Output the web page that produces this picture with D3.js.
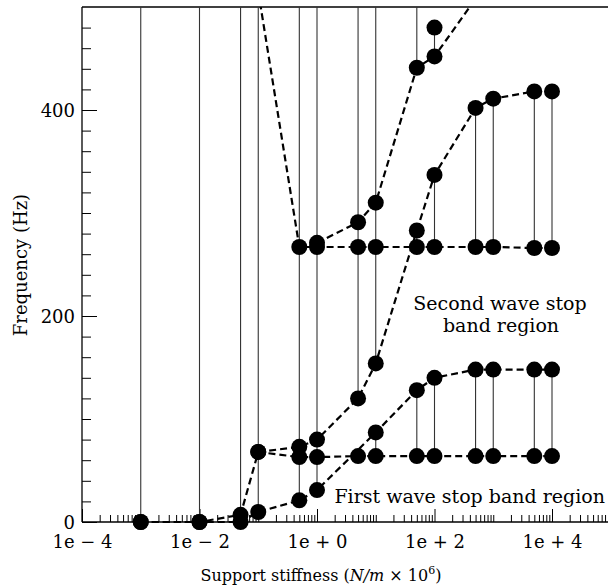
<!DOCTYPE html>
<html>
<head>
<meta charset="utf-8">
<script src="https://cdn.jsdelivr.net/npm/d3@7"></script>
<style>
  html, body { margin: 0; padding: 0; background: #fff; }
  svg { display: block; }
  text { font-family: "DejaVu Serif", serif; fill: #000; }
</style>
</head>
<body>
<svg id="chart" width="608" height="588"></svg>
<script>
// ---------------- data ----------------
const stiffness = [0.001, 0.01, 0.05, 0.1, 0.5, 1, 5, 10, 50, 100, 500, 1000, 5000, 10000];

// band-edge frequencies (Hz) at each stiffness (null = no point)
const edge1 = [0, 0, 0, 9.7, 21, 31, null, 87, 128, 140, 148, 148, 148, 148];
const edge2 = [0, 0, 7, 68, 63, 63, 64, 64, 64, 64, 64, 64, 64, 64];
const edge3 = [null, null, null, 68, 73, 80, 120, 154, 283, 337, 402, 411, 418, 418];
const edge4 = [null, null, null, 515, 267, 267, 267, 267, 267, 267, 267, 267, 266, 266];
const edge5 = [null, null, null, null, null, 271, 291, 310, 441, 452, 508, null, null, null];
const edge6 = [null, null, null, null, null, null, null, null, null, 480, null, null, null, null];

// solid vertical band segments
const bandStiffness = [0.001, 0.01, 0.05, 0.1, 0.5, 1, 5, 10, 10, 50, 50, 50, 100, 100, 100, 500, 500, 1000, 1000, 5000, 5000, 10000, 10000];
const bandLow  = [0, 0, 0, 9.7, 21, 31, 120, 154, 64, 441, 267, 64, 452, 267, 64, 267, 64, 267, 64, 266, 64, 266, 64];
const bandHigh = [520, 520, 520, 520, 520, 520, 520, 520, 87, 520, 283, 128, 480, 337, 140, 402, 148, 411, 148, 418, 148, 418, 148];

// axis ticks
const xTickValues = [1e-4, 1e-2, 1e0, 1e2, 1e4];
const xTickLabels = ["1e \u2212 4", "1e \u2212 2", "1e + 0", "1e + 2", "1e + 4"];
const yTickValues = [0, 200, 400];
const yTickLabels = ["0", "200", "400"];

const regionLabels = ["Second wave stop", "band region", "First wave stop band region"];

// ---------------- chart ----------------
const svg = d3.select("#chart");
const pLeft = 82, pTop = 7, pBottom = 522, pRight = 610.75;

const x = d3.scaleLog().domain([1e-4, 1e5]).range([pLeft, pRight]);
const y = d3.scaleLinear().domain([0, 500]).range([pBottom, pTop]);

svg.append("defs").append("clipPath").attr("id", "clip")
  .append("rect").attr("x", 0).attr("y", pTop).attr("width", 608).attr("height", 588 - pTop);

// minor ticks
const xMinor = [];
for (let k = -4; k <= 4; k++) {
  for (let m = 1; m <= 9; m++) {
    const v = m * Math.pow(10, k);
    if (!xTickValues.some(t => Math.abs(t - v) / v < 1e-9)) xMinor.push(v);
  }
}
xMinor.push(1e5);
const yMinor = d3.range(20, 500, 20).filter(v => !yTickValues.includes(v));

// x axis minor ticks (upward)
svg.append("g").attr("transform", `translate(0,${pBottom})`)
  .call(d3.axisBottom(x).tickValues(xMinor).tickSize(-7).tickSizeOuter(0).tickFormat(""))
  .call(g => g.select(".domain").remove())
  .selectAll("line").attr("stroke", "#000").attr("stroke-width", 1);

// x axis major ticks with labels
const xAxisG = svg.append("g").attr("transform", `translate(0,${pBottom})`)
  .call(d3.axisBottom(x).tickValues(xTickValues).tickSize(-13).tickSizeOuter(0)
    .tickFormat((d, i) => xTickLabels[i]));
xAxisG.select(".domain").remove();
xAxisG.selectAll("line").attr("stroke", "#000").attr("stroke-width", 1);
xAxisG.selectAll("text").attr("font-size", 18).attr("font-family", "DejaVu Serif")
  .attr("dy", "0").attr("y", 26);

// y axis minor ticks (rightward)
svg.append("g").attr("transform", `translate(${pLeft},0)`)
  .call(d3.axisLeft(y).tickValues(yMinor).tickSize(-9).tickSizeOuter(0).tickFormat(""))
  .call(g => g.select(".domain").remove())
  .selectAll("line").attr("stroke", "#000").attr("stroke-width", 1);

const yAxisG = svg.append("g").attr("transform", `translate(${pLeft},0)`)
  .call(d3.axisLeft(y).tickValues(yTickValues).tickSize(-15).tickSizeOuter(0)
    .tickFormat((d, i) => yTickLabels[i]));
yAxisG.select(".domain").remove();
yAxisG.selectAll("line").attr("stroke", "#000").attr("stroke-width", 1);
yAxisG.selectAll("text").attr("font-size", 18).attr("font-family", "DejaVu Serif")
  .attr("x", -7).attr("dy", "0.35em");

// frame lines: left axis, bottom axis, top border
svg.append("line").attr("x1", pLeft).attr("x2", pLeft).attr("y1", pTop).attr("y2", pBottom)
  .attr("stroke", "#000").attr("stroke-width", 1.3);
svg.append("line").attr("x1", pLeft).attr("x2", 608).attr("y1", pBottom).attr("y2", pBottom)
  .attr("stroke", "#000").attr("stroke-width", 1.3);
svg.append("line").attr("x1", pLeft).attr("x2", 608).attr("y1", pTop).attr("y2", pTop)
  .attr("stroke", "#000").attr("stroke-width", 1.3);

const plot = svg.append("g").attr("clip-path", "url(#clip)");

// vertical solid band segments
plot.selectAll("line.band").data(bandStiffness.map((s, i) => ({ s, lo: bandLow[i], hi: bandHigh[i] })))
  .join("line").attr("class", "band")
  .attr("x1", d => x(d.s)).attr("x2", d => x(d.s))
  .attr("y1", d => y(d.lo)).attr("y2", d => y(d.hi))
  .attr("stroke", "#333").attr("stroke-width", 1.1);

// dashed band-edge curves
const edges = [edge1, edge2, edge3, edge4, edge5, edge6];
const line = d3.line().x(d => x(d[0])).y(d => y(d[1]));
edges.forEach(e => {
  const pts = stiffness.map((s, i) => [s, e[i]]).filter(d => d[1] !== null);
  if (pts.length > 1) {
    plot.append("path").datum(pts).attr("d", line)
      .attr("fill", "none").attr("stroke", "#000").attr("stroke-width", 2.2)
      .attr("stroke-dasharray", "7,4");
  }
});

// markers
edges.forEach(e => {
  const pts = stiffness.map((s, i) => [s, e[i]]).filter(d => d[1] !== null);
  plot.selectAll(null).data(pts).join("circle")
    .attr("cx", d => x(d[0])).attr("cy", d => y(d[1])).attr("r", 8).attr("fill", "#000");
});

// region labels
svg.append("text").attr("x", 500).attr("y", 310).attr("text-anchor", "middle")
  .attr("font-size", 19).text(regionLabels[0]);
svg.append("text").attr("x", 501).attr("y", 332).attr("text-anchor", "middle")
  .attr("font-size", 19).text(regionLabels[1]);
svg.append("text").attr("x", 605).attr("y", 503).attr("text-anchor", "end")
  .attr("font-size", 19).text(regionLabels[2]);

// axis titles
const xt = svg.append("text").attr("x", 321).attr("y", 581).attr("text-anchor", "middle").attr("font-size", 16);
xt.append("tspan").text("Support stiffness (");
xt.append("tspan").attr("font-style", "italic").text("N/m");
xt.append("tspan").text(" \u00d7 10");
xt.append("tspan").attr("dy", -7).attr("font-size", 11).text("6");
xt.append("tspan").attr("dy", 7).text(")");

svg.append("text").attr("transform", "translate(27,265) rotate(-90)").attr("text-anchor", "middle")
  .attr("font-size", 18).text("Frequency (Hz)");
</script>
</body>
</html>
